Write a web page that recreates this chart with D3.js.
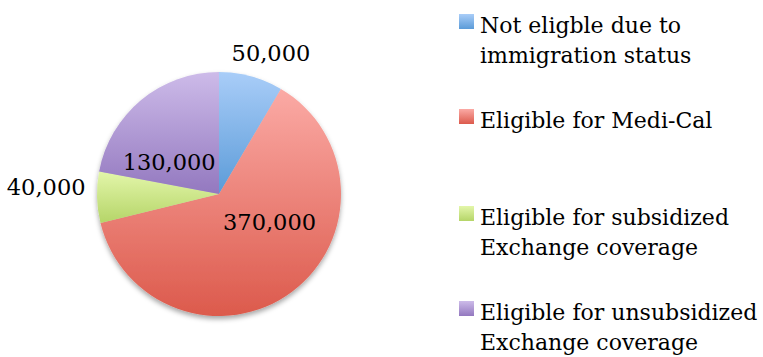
<!DOCTYPE html>
<html>
<head>
<meta charset="utf-8">
<script src="https://cdn.jsdelivr.net/npm/d3@7"></script>
<style>
  body { margin: 0; background: #fff; }
  svg text { font-family: "DejaVu Serif", serif; fill: #000; }
</style>
</head>
<body>
<svg id="chart" width="763" height="357"></svg>
<script>
// data
const categories = [
  "Not eligble due to|immigration status",
  "Eligible for Medi-Cal",
  "Eligible for subsidized|Exchange coverage",
  "Eligible for unsubsidized|Exchange coverage"
];
const values = [50000, 370000, 40000, 130000];
const colorsTop = ["#a9cdf8", "#fbaaa5", "#e3f6aa", "#cdbbe9"];
const colorsBottom = ["#5b9bd8", "#dc5a4c", "#b5d568", "#9378bf"];

const svg = d3.select("#chart");
const cx = 219, cy = 194, radius = 122;

const defs = svg.append("defs");
categories.forEach((c, i) => {
  const g = defs.append("linearGradient")
    .attr("id", "grad" + i)
    .attr("x1", 0).attr("y1", 0).attr("x2", 0).attr("y2", 1);
  g.append("stop").attr("offset", "0%").attr("stop-color", colorsTop[i]);
  g.append("stop").attr("offset", "100%").attr("stop-color", colorsBottom[i]);
});

const shadow = defs.append("filter").attr("id", "shadow")
  .attr("x", "-20%").attr("y", "-20%").attr("width", "140%").attr("height", "140%");
shadow.append("feDropShadow")
  .attr("dx", 0).attr("dy", 3).attr("stdDeviation", 2.5)
  .attr("flood-color", "#000").attr("flood-opacity", 0.35);

const pie = d3.pie().sort(null).value(d => d);
const arcs = pie(values);
const arc = d3.arc().innerRadius(0).outerRadius(radius);

const g = svg.append("g").attr("transform", `translate(${cx},${cy})`);
g.append("g").attr("filter", "url(#shadow)")
  .selectAll("path")
  .data(arcs)
  .join("path")
  .attr("d", arc)
  .attr("fill", (d, i) => `url(#grad${i})`);

// data labels: label radius and angle nudge per slice (best-fit like placement)
const labelPlace = [
  { r: 150, da: 5 },
  { r: 58, da: -24 },
  { r: 173, da: 4 },
  { r: 59, da: -18 }
];
const fmt = d3.format(",");
g.selectAll("text.val")
  .data(arcs)
  .join("text")
  .attr("class", "val")
  .attr("text-anchor", "middle")
  .attr("dominant-baseline", "central")
  .style("font-size", "22.5px")
  .attr("transform", (d, i) => {
    const a = (d.startAngle + d.endAngle) / 2 + labelPlace[i].da * Math.PI / 180;
    const r = labelPlace[i].r;
    return `translate(${r * Math.sin(a)},${-r * Math.cos(a)})`;
  })
  .text(d => fmt(d.data));

// legend
const legendY = [33, 128, 225, 320];
const legend = svg.append("g").attr("transform", "translate(459,0)");
const item = legend.selectAll("g")
  .data(categories)
  .join("g")
  .attr("transform", (d, i) => `translate(0,${legendY[i]})`);
item.append("rect")
  .attr("x", 0).attr("y", -19)
  .attr("width", 15).attr("height", 15)
  .attr("fill", (d, i) => `url(#grad${i})`);
item.append("text")
  .attr("x", 21)
  .style("font-size", "22px")
  .selectAll("tspan")
  .data(d => d.split("|"))
  .join("tspan")
  .attr("x", 21)
  .attr("dy", (d, j) => j === 0 ? 0 : 30)
  .text(d => d);
</script>
</body>
</html>
